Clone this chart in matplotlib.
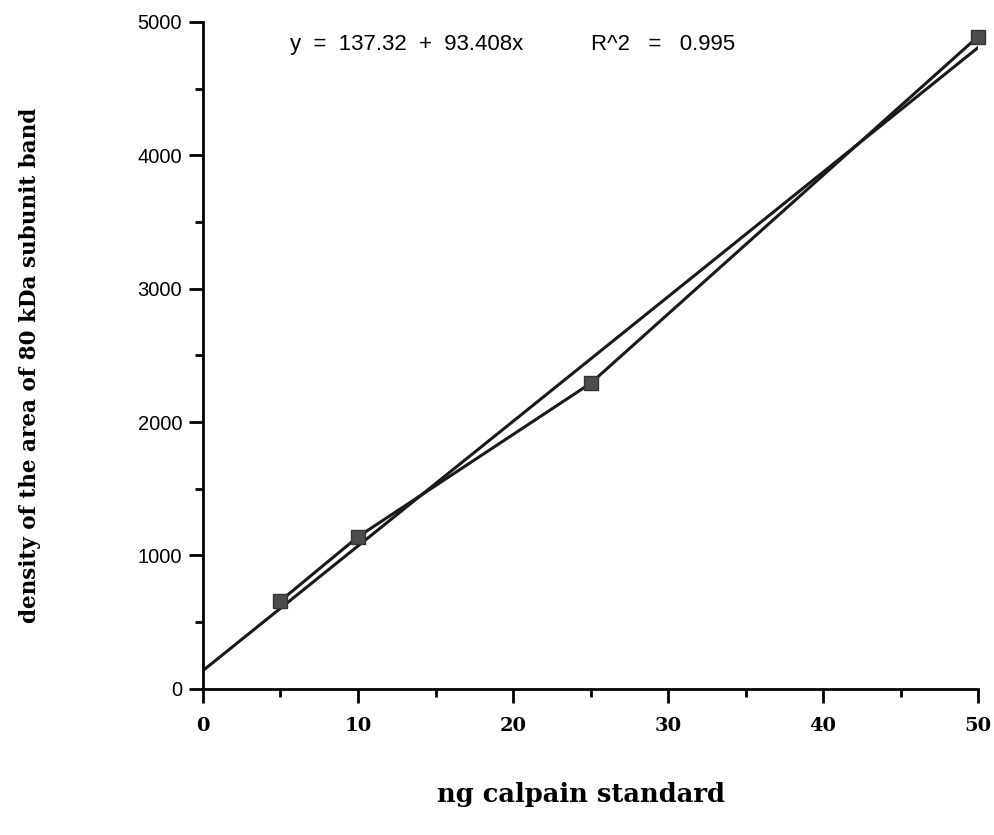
import matplotlib.pyplot as plt
import numpy as np
from matplotlib.ticker import MultipleLocator

# standard amounts and measured band densities
ng_standard = np.array([5, 10, 25, 50])
density = np.array([660, 1140, 2290, 4890])

# regression line as printed on the chart
intercept = 137.32
slope = 93.408
r2 = 0.995

fig = plt.figure(figsize=(9.95, 8.35), dpi=100)
ax = fig.add_axes([0.204, 0.175, 0.779, 0.7988])

x_fit = np.array([0, 50])
ax.plot(x_fit, intercept + slope * x_fit, c='#1a1a1a', lw=2.2)
ax.plot(ng_standard, density, c='#1a1a1a', lw=2.2, marker='s', ms=10,
        mfc='#4d4d4d', mec='#333333', clip_on=False, zorder=5)

ax.set_xlim(0, 50)
ax.set_ylim(0, 5000)
ax.spines['top'].set_visible(False)
ax.spines['right'].set_visible(False)
ax.spines['left'].set_linewidth(2)
ax.spines['bottom'].set_linewidth(2)

ax.xaxis.set_major_locator(MultipleLocator(10))
ax.xaxis.set_minor_locator(MultipleLocator(5))
ax.yaxis.set_major_locator(MultipleLocator(1000))
ax.yaxis.set_minor_locator(MultipleLocator(500))
ax.tick_params(which='major', length=10, width=2, direction='out')
ax.tick_params(which='minor', length=6, width=2, direction='out')
ax.tick_params(axis='x', pad=10)
ax.tick_params(axis='y', pad=5)

for lab in ax.get_xticklabels():
    lab.set_fontfamily('DejaVu Serif')
    lab.set_fontsize(14)
    lab.set_fontweight('bold')
for lab in ax.get_yticklabels():
    lab.set_fontfamily('Liberation Sans')
    lab.set_fontsize(14.5)

ax.text(5.6, 4830, 'y  =  %.2f  +  %.3fx' % (intercept, slope),
        fontfamily='Liberation Sans', fontsize=16, va='center', ha='left')
ax.text(25, 4830, 'R^2   =   %.3f' % r2,
        fontfamily='Liberation Sans', fontsize=16, va='center', ha='left')

fig.text(0.584, 0.048, 'ng calpain standard', fontfamily='DejaVu Serif',
         fontsize=18.5, fontweight='bold', ha='center', va='center')
fig.text(0.03, 0.562, 'density of the area of 80 kDa subunit band', fontfamily='DejaVu Serif',
         fontsize=15.5, fontweight='bold', ha='center', va='center', rotation=90)

fig.savefig('out.png', dpi=100)
